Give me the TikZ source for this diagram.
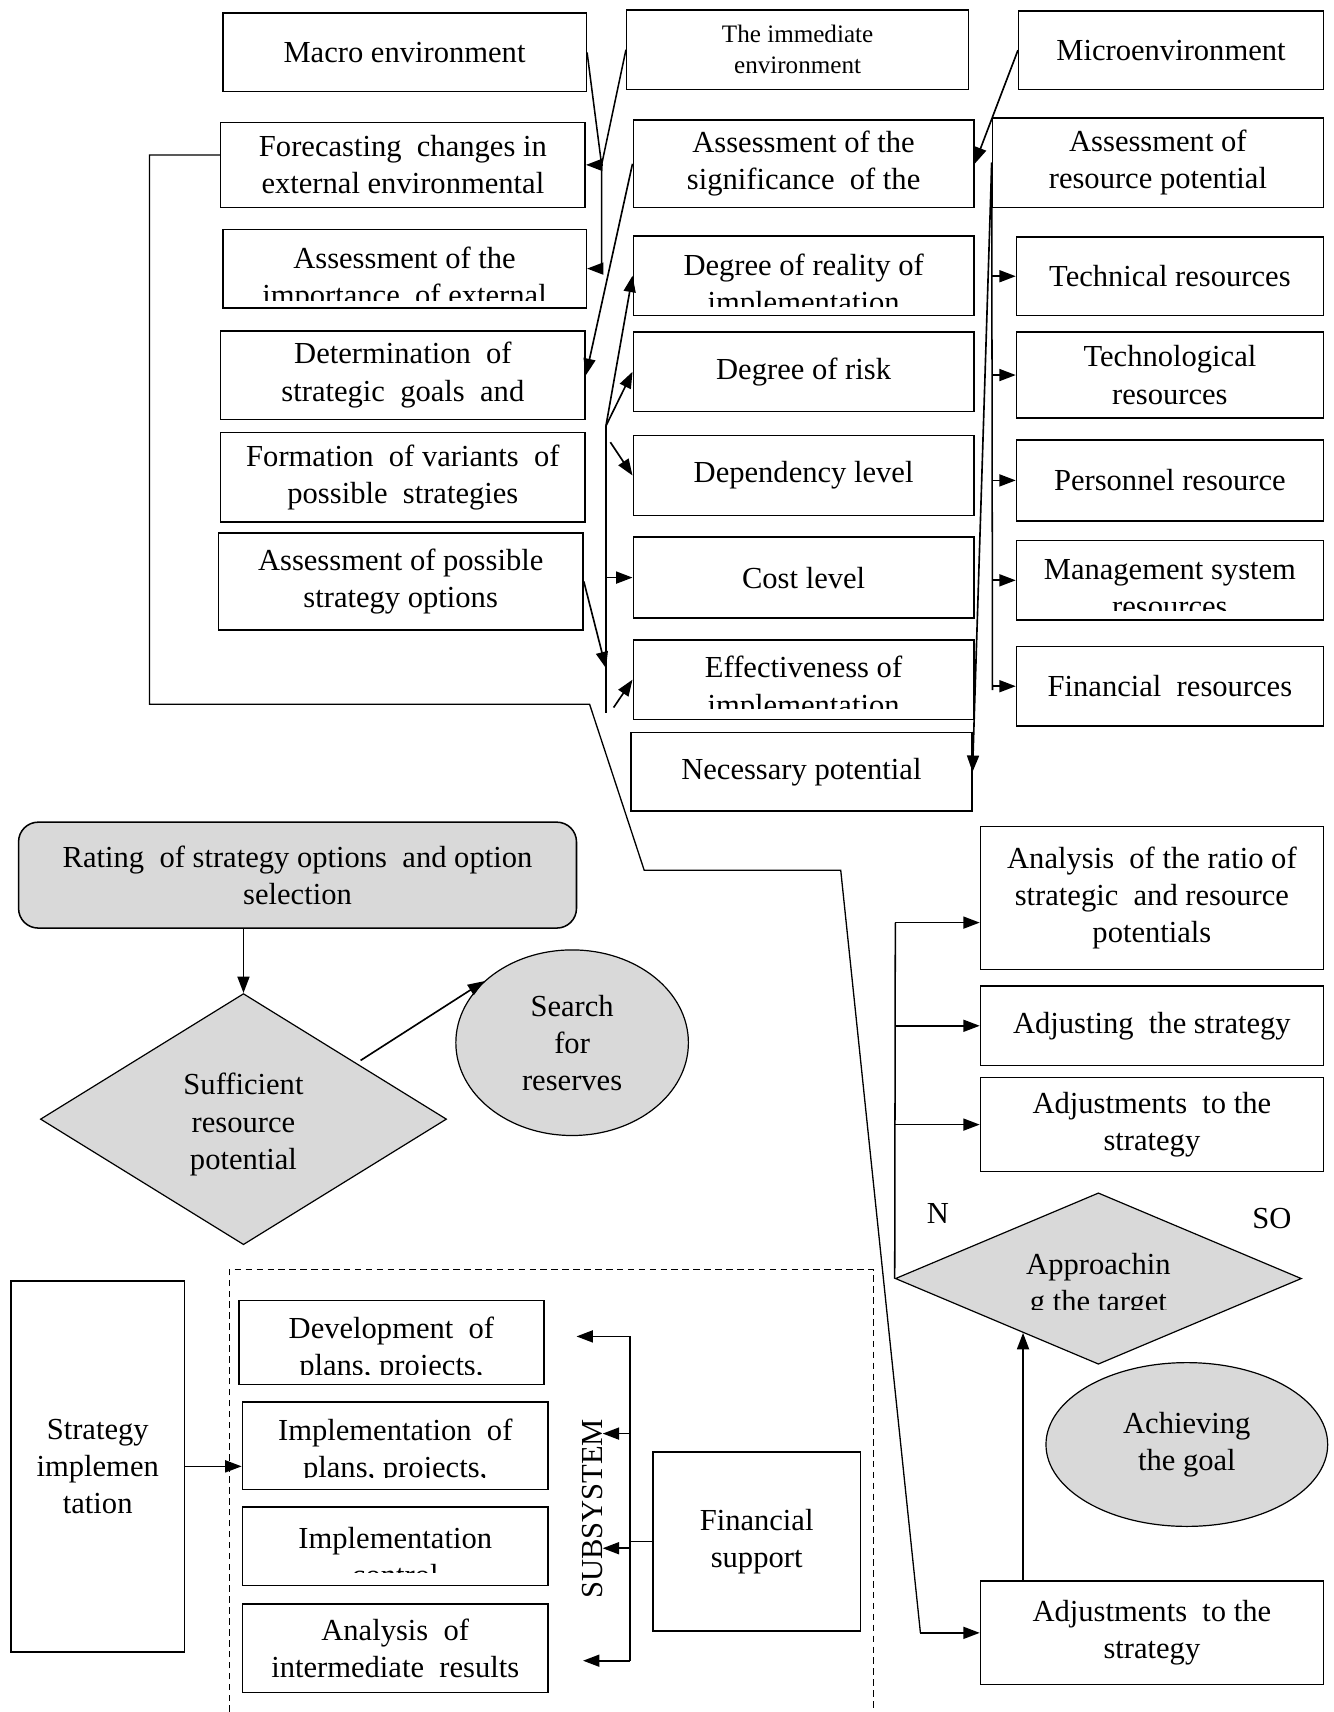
\documentclass[tikz,border=0pt]{standalone}
\usepackage{fontspec}
\setmainfont{Liberation Serif}
\usetikzlibrary{shapes.geometric,arrows.meta,calc}
\definecolor{shade}{RGB}{217,217,217}
\newcommand\bigtext{\fontsize{28}{34}\selectfont}
\newcommand\smalltext{\fontsize{23}{28}\selectfont}
% text cut off at the lower edge of its box
\newcommand\cuttext[3]{%
	\clip ([yshift=#2]path picture bounding box.south west) rectangle (path picture bounding box.north east);
	\node[txt] at ([yshift=#1]path picture bounding box.center) {#3};}
\tikzset{
	box/.style={draw, line width=1.4pt, align=center, inner sep=0pt, font=\bigtext},
	txt/.style={align=center, inner sep=0pt, font=\bigtext},
	con/.style={line width=1.4pt},
	arr/.style={line width=1.5pt, -{Triangle[length=15pt,width=11pt]}},
	sz/.style 2 args={minimum width=#1pt, minimum height=#2pt}
}

\begin{document}
\begin{tikzpicture}[x=1pt, y=-1pt]
	\useasboundingbox (0,0) rectangle (1221,1568);
	
	% upper block
	\node[box, sz={333}{72}] (macro) at (370.5,48) {Macro environment};
	\node[box, sz={313}{73}, font=\smalltext] (immed) at (730.5,45.5) {The immediate\\environment};
	\node[box, sz={279}{72}] (micro) at (1072.5,46) {Microenvironment};
	
	\node[box, sz={334}{78}] (fore) at (369,151) {Forecasting\ \ changes in\\external environmental};
	\node[box, sz={312}{80}] (signif) at (736,150) {Assessment of the\\significance\ \ of the};
	\node[box, sz={303}{82}] (resp) at (1060.5,149) {Assessment of\\resource potential};
	
	\node[box, sz={333}{72}, path picture={\cuttext{-10pt}{7pt}{Assessment of the\\importance\ \ of external}}] (imp) at (370.5,246) {};
	\node[box, sz={312}{73}, path picture={\cuttext{-9.5pt}{8pt}{Degree of reality of\\implementation}}] (real) at (736,252.5) {};
	\node[box, sz={281}{72}] (tech) at (1071.5,253) {Technical resources};
	
	\node[box, sz={334}{81}] (det) at (369,343.5) {Determination\ \ of\\strategic\ \ goals\ \ and};
	\node[box, sz={312}{73}] (risk) at (736,340.5) {Degree of risk};
	\node[box, sz={281}{79}] (techn) at (1071.5,343.5) {Technological\\resources};
	
	\node[box, sz={334}{82}] (form) at (369,437) {Formation\ \ of variants\ \ of\\possible\ \ strategies};
	\node[box, sz={312}{73}] (dep) at (736,435.5) {Dependency level};
	\node[box, sz={281}{74}] (pers) at (1071.5,440) {Personnel resource};
	
	\node[box, sz={334}{89}] (aspo) at (367,532.5) {Assessment of possible\\strategy options};
	\node[box, sz={312}{74}] (cost) at (736,529) {Cost level};
	\node[box, sz={281}{73}, path picture={\cuttext{-7.5pt}{9pt}{Management system\\resources}}] (mgmt) at (1071.5,531.5) {};
	
	\node[box, sz={312}{73}, path picture={\cuttext{-8.5pt}{10pt}{Effectiveness of\\implementation}}] (eff) at (736,622.5) {};
	\node[box, sz={281}{73}] (fin) at (1071.5,628.5) {Financial\ \ resources};
	
	\node[box, sz={312}{72}] (nec) at (734,707) {Necessary potential};
	
	\coordinate (j1) at (551,151);
	\coordinate (j2) at (551,246);
	\draw[con] (macro.east) -- (j1) -- (j2);
	\draw[con] (immed.west) -- (j1);
	\draw[arr] (j1) -- (fore.east);
	\draw[arr] (j2) -- (imp.east);
	\draw[arr] (signif.west) -- (det.east);
	\draw[arr] (micro.west) -- (signif.east);
	
	\coordinate (f0) at (555,390);
	\coordinate (f1) at (555,653);
	\coordinate (f2) at (555,612);
	\coordinate (f3) at (562,648);
	\draw[con] (f0) -- (f1);
	\draw[arr] (f0) -- (real.west);
	\draw[arr] (f0) -- (risk.west);
	\draw[arr] ([shift={(4,15)}]f0) -- (dep.west);
	\draw[arr] (cost.west -| f0) -- (cost.west);
	\draw[arr] (f3) -- (eff.west);
	\draw[arr] (aspo.east) -- (f2);
	
	\coordinate (g1) at (909,632);
	\draw[con] (resp.west) -- (g1);
	\foreach \n in {tech,techn,pers,mgmt,fin}
		\draw[arr] (\n.west -| g1) -- (\n.west);
	\draw[arr] (resp.west) -- (nec.east);
	
	\coordinate (r1) at (137,142);
	\coordinate (r2) at (137,645);
	\coordinate (r3) at (540,645);
	\coordinate (r4) at (590,797);
	\coordinate (r5) at (770,797);
	\coordinate (r6) at (843,1495.5);
	\draw[con, line width=1.2pt] (fore.west |- r1) -- (r1) -- (r2) -- (r3) -- (r4) -- (r5) -- (r6);
	
	% choice of option
	\node[box, sz={511}{97}, rounded corners=18pt, fill=shade] (rating) at (272.5,801.5) {Rating\ \ of strategy options\ \ and option\\selection};
	\node[box, shape=diamond, sz={372}{230}, fill=shade, line width=1.1pt, path picture={\cuttext{-5pt}{0pt}{Sufficient\\resource\\potential}}] (suff) at (223,1025) {};
	\node[box, ellipse, sz={213}{170}, fill=shade, line width=1.1pt] (search) at (524,955) {Search\\for\\reserves};
	\draw[arr] (rating.south -| suff.north) -- (suff.north);
	\draw[arr] ([shift={(14,4)}]suff.north east) -- (search.145);
	
	% correction loop
	\node[box, sz={314}{131}] (anal) at (1055,822.5) {Analysis\ \ of the ratio of\\strategic\ \ and resource\\potentials};
	\node[box, sz={314}{73}] (adj) at (1055,939.5) {Adjusting\ \ the strategy};
	\node[box, sz={314}{86}] (adjs) at (1055,1030) {Adjustments\ \ to the\\strategy};
	\node[box, shape=diamond, sz={372}{157}, fill=shade, line width=1.1pt, path picture={\cuttext{-6.5pt}{49.5pt}{Approachin\\g the target}}] (appr) at (1006,1171) {};
	\node[font=\bigtext] (nlab) at (859,1111) {N};
	\node[font=\bigtext] (solab) at (1165,1116) {SO};
	\node[box, ellipse, sz={258}{150}, fill=shade, line width=1.1pt] (ach) at (1087,1323) {Achieving\\the goal};
	\node[box, sz={314}{95}] (adjb) at (1055,1495.5) {Adjustments\ \ to the\\strategy};
	
	\coordinate (n1) at (820,845);
	\draw[con] (appr.west) -- (n1);
	\draw[arr] (n1) -- (n1 -| anal.west);
	\draw[arr] (appr.west |- adj.west) -- (adj.west);
	\draw[arr] (appr.west |- adjs.west) -- (adjs.west);
	\coordinate (aim) at ($(appr.west)!0.63!(appr.south)$);
	\draw[arr] (adjb.north -| aim) -- (aim);
	\draw[arr] (r6) -- (adjb.west);
	
	% implementation
	\draw[line width=1.1pt, dash pattern=on 6pt off 4pt] (210,1568) -- (210,1163) -- (800,1163) -- (800,1568);
	\node[box, sz={159}{340}] (strat) at (89.5,1343) {Strategy\\implemen\\tation};
	\node[box, sz={279}{77}, path picture={\cuttext{-6.5pt}{9pt}{Development\ \ of\\plans, projects,}}] (dev) at (358.5,1229.5) {};
	\node[box, sz={280}{80}, path picture={\cuttext{-5pt}{11pt}{Implementation\ \ of\\plans, projects,}}] (impl) at (362,1324) {};
	\node[box, sz={280}{72}, path picture={\cuttext{-10pt}{12pt}{Implementation\\control}}] (ctrl) at (362,1416) {};
	\node[box, sz={280}{81}] (anres) at (362,1509.5) {Analysis\ \ of\\intermediate\ \ results};
	\node[box, sz={190}{164}] (fins) at (693,1412) {Financial\\support};
	\node[font=\bigtext, rotate=90] (subsys) at (543,1382) {SUBSYSTEM};
	
	\draw[arr] (strat.east) -- (strat.east -| impl.west);
	\coordinate (s1) at (577,1224);
	\coordinate (s2) at (577,1521);
	\coordinate (d1) at (528,1224);
	\coordinate (d2) at (552,1313);
	\coordinate (d3) at (552,1418);
	\coordinate (d4) at (534,1521);
	\draw[con] (s1) -- (s2);
	\draw[arr] (s1) -- (d1);
	\draw[arr] (d2 -| s1) -- (d2);
	\draw[arr] (d3 -| s1) -- (d3);
	\draw[arr] (s2) -- (d4);
	\draw[con] (fins.west) -- (fins.west -| s1);
	
\end{tikzpicture}
\end{document}
